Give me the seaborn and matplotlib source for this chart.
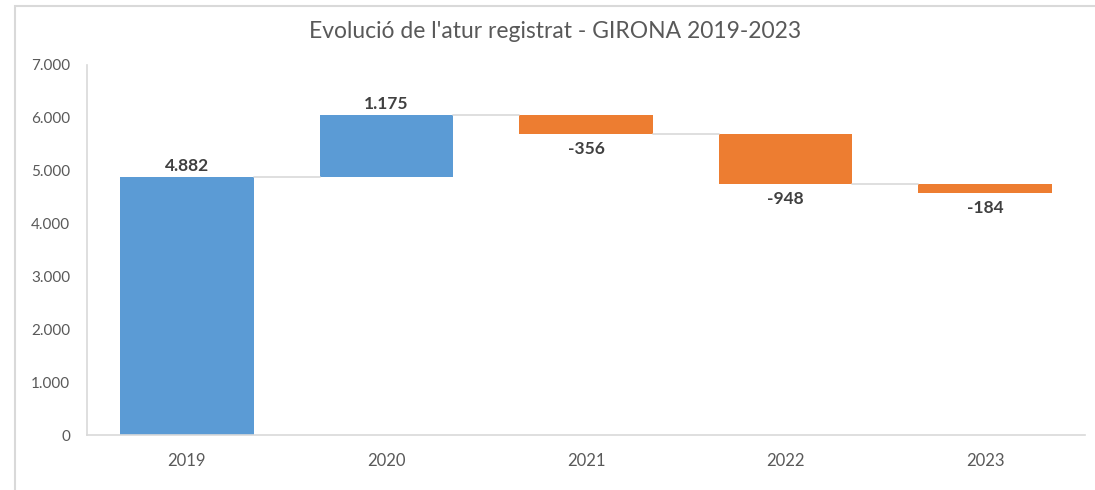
import matplotlib
matplotlib.use("Agg")
import matplotlib.pyplot as plt
import matplotlib.patches as mpatches
import seaborn as sns
import numpy as np

years = ["2019", "2020", "2021", "2022", "2023"]
changes = [4882, 1175, -356, -948, -184]
labels = ["4.882", "1.175", "-356", "-948", "-184"]
yticks = [0, 1000, 2000, 3000, 4000, 5000, 6000, 7000]
ytick_labels = ["0", "1.000", "2.000", "3.000", "4.000", "5.000", "6.000", "7.000"]

BLUE = "#5B9BD5"
ORANGE = "#ED7D31"
GRID = "#D9D9D9"
TXT = "#595959"

sns.set_style("white")
plt.rcParams["font.family"] = ["Lato", "DejaVu Sans"]

fig = plt.figure(figsize=(10.95, 4.9), dpi=100)
ax = fig.add_axes([87/1095, 1-435/490, (1085-87)/1095, 370/490])

bottoms = []
running = 0
for i, c in enumerate(changes):
    b = 0 if i == 0 else running
    bottoms.append(b)
    running = b + c

w = 0.67
for i, (yr, c, b) in enumerate(zip(years, changes, bottoms)):
    color = BLUE if c >= 0 else ORANGE
    sns.barplot(x=[yr], y=[c], bottom=b, order=years, color=color,
                width=w, saturation=1, ax=ax, linewidth=0)

# connectors
totals = [b + c for b, c in zip(bottoms, changes)]
for i in range(len(years) - 1):
    ax.plot([i + w/2, i + 1 - w/2], [totals[i], totals[i]], color=GRID, lw=1.2, zorder=1)

# labels
for i, (c, b, lab) in enumerate(zip(changes, bottoms, labels)):
    if c >= 0:
        ax.annotate(lab, (i, b + c), xytext=(0, 2), textcoords="offset points",
                    ha="center", va="bottom", fontsize=12.5, fontweight="bold", color="#404040")
    else:
        ax.annotate(lab, (i, b + c), xytext=(0, -5), textcoords="offset points",
                    ha="center", va="top", fontsize=12.5, fontweight="bold", color="#404040")

ax.set_xlim(-0.5, 4.5)
ax.set_ylim(0, 7000)
ax.set_yticks(yticks)
ax.set_yticklabels(ytick_labels)
ax.set_xlabel("")
ax.set_ylabel("")
ax.tick_params(axis="y", length=0, pad=12, labelsize=11, labelcolor=TXT)
ax.tick_params(axis="x", length=0, pad=13, labelsize=12, labelcolor=TXT)
for s in ["top", "right"]:
    ax.spines[s].set_visible(False)
for s in ["left", "bottom"]:
    ax.spines[s].set_color(GRID)
    ax.spines[s].set_linewidth(1.2)

fig.text(555/1095, 1-32/490, "Evolució de l'atur registrat - GIRONA 2019-2023",
         ha="center", va="center", fontsize=16.5, color=TXT)

rect = mpatches.Rectangle((15/1095, -0.1), 1.2, 1 - 6/490 + 0.1, transform=fig.transFigure,
                          fill=False, edgecolor=GRID, lw=1.5)
fig.patches.append(rect)

fig.savefig("out.png", dpi=100)
